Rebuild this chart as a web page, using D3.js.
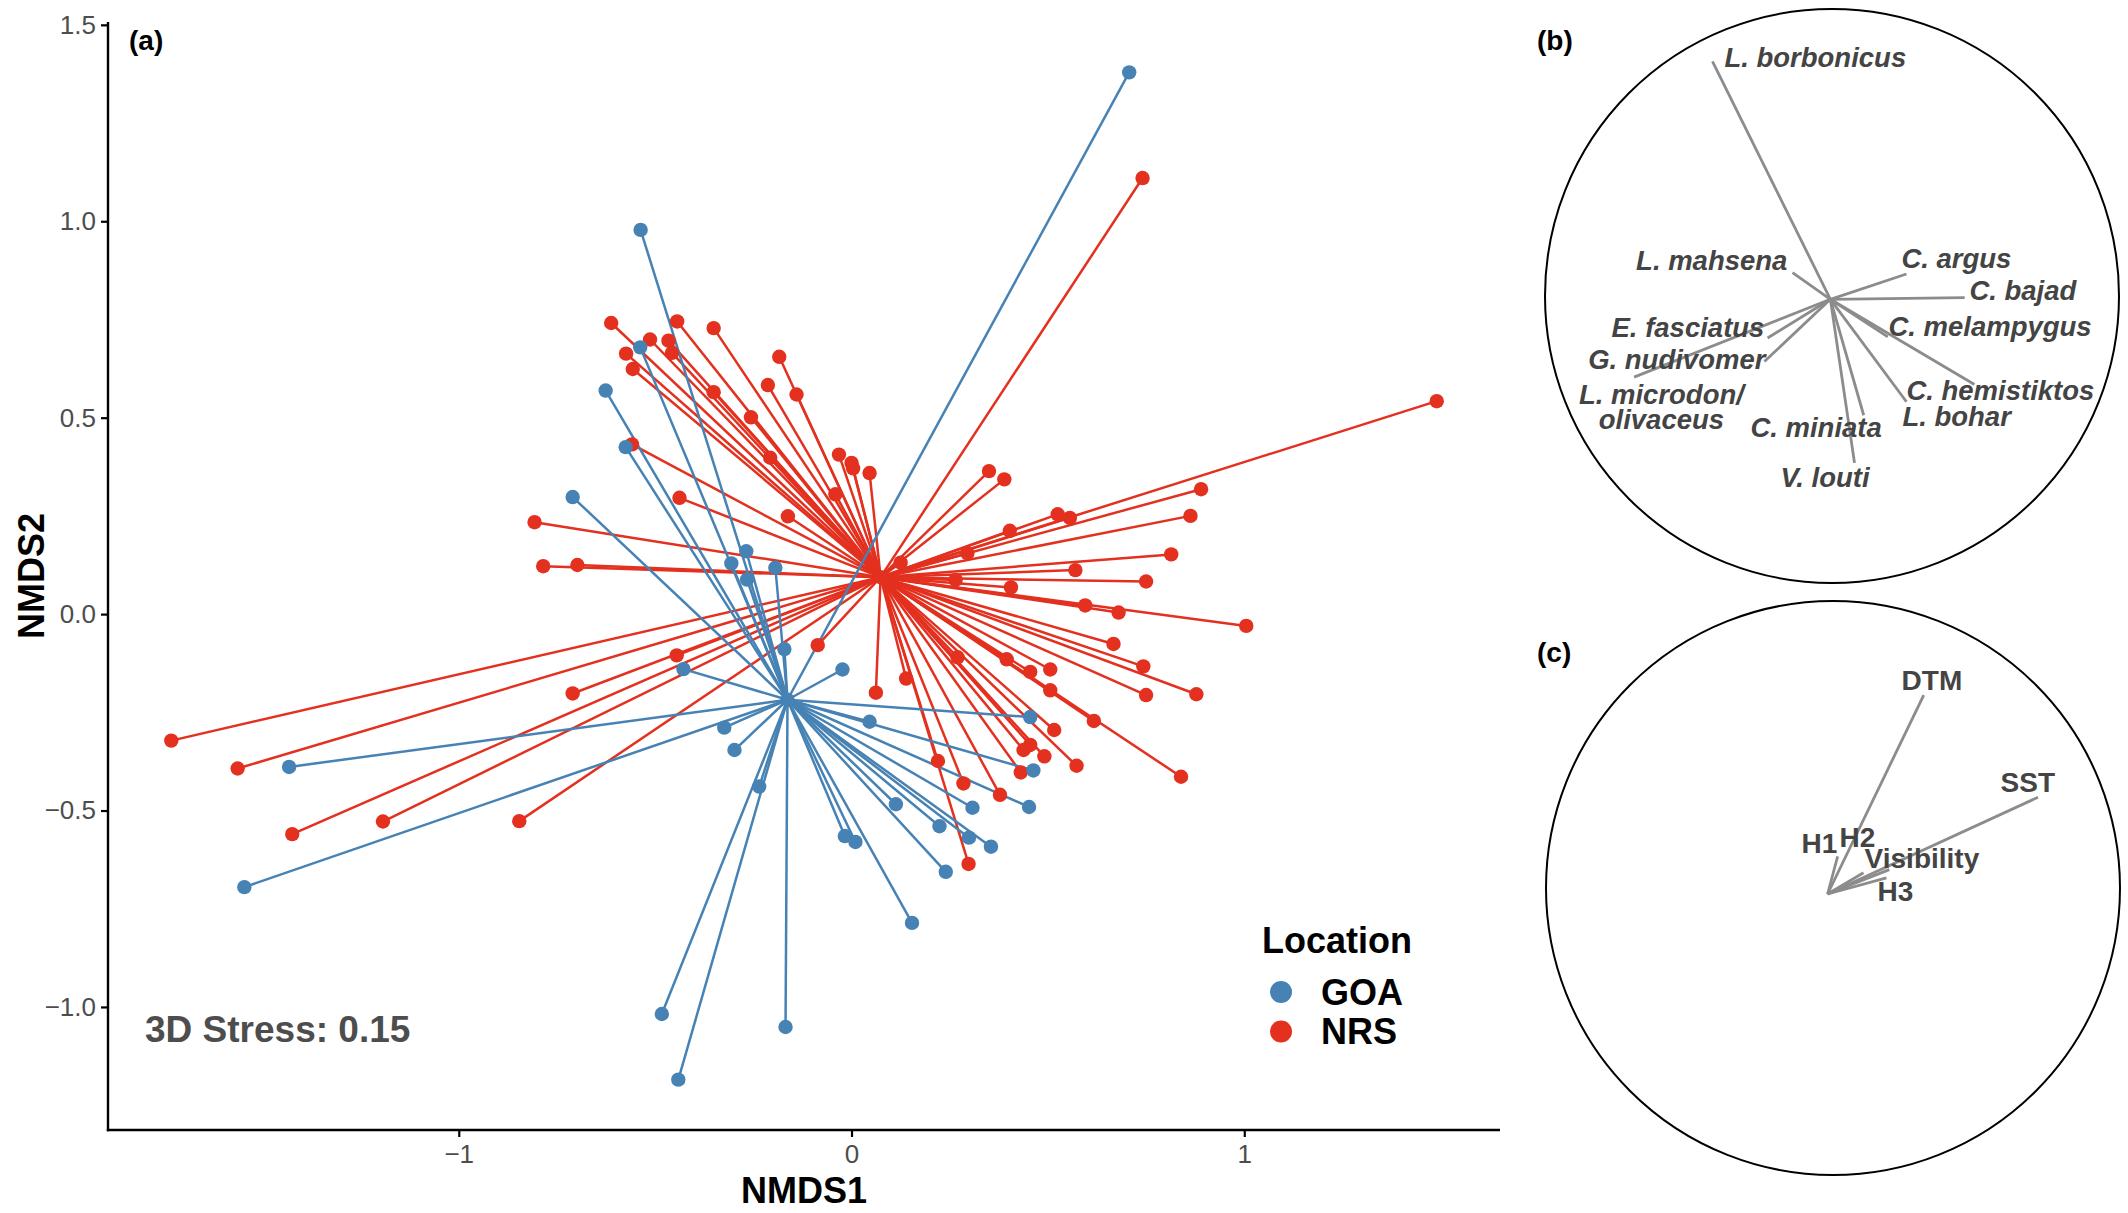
<!DOCTYPE html>
<html><head><meta charset="utf-8">
<script src="https://cdn.jsdelivr.net/npm/d3@7"></script>
<style>
html,body{margin:0;padding:0;background:#fff;}
svg{display:block;font-family:"Liberation Sans",Arial,Helvetica,sans-serif;}
</style></head>
<body><svg id="chart" width="2128" height="1213"></svg>
<script>
// ---------------- DATA ----------------
const locations = ["GOA", "NRS"];
const goaX = [0.707,-0.537,-0.538,-0.626,-0.575,-0.710,-0.268,-0.306,-0.194,-0.266,-0.171,-0.023,-0.428,0.046,-0.324,-0.298,-0.235,0.113,0.308,0.224,0.299,0.355,-0.017,0.010,0.240,0.154,0.455,0.463,0.452,-1.432,-1.546,-0.483,-0.168,-0.441];
const goaY = [1.379,0.978,0.679,0.569,0.425,0.298,0.160,0.129,0.118,0.088,-0.089,-0.141,-0.140,-0.274,-0.289,-0.346,-0.439,-0.484,-0.493,-0.540,-0.569,-0.592,-0.565,-0.580,-0.656,-0.786,-0.262,-0.398,-0.491,-0.389,-0.695,-1.018,-1.051,-1.185];
const nrsX = [0.741,1.490,-0.612,-0.444,-0.351,-0.513,-0.466,-0.574,-0.457,-0.557,-0.184,-0.213,-0.351,-0.140,-0.256,-0.559,-0.207,-0.032,0.000,0.004,0.046,0.350,0.389,-0.041,-0.438,-0.162,-0.807,-0.785,-0.698,0.890,0.863,0.525,0.556,0.403,0.295,0.125,0.814,0.570,0.750,0.265,0.406,0.595,0.680,1.005,0.667,0.270,0.395,0.455,0.506,0.743,0.139,0.062,-0.086,-0.445,-0.710,0.506,0.750,0.878,0.617,0.516,0.455,0.438,0.491,0.573,0.431,0.220,0.285,0.378,0.839,0.298,-1.732,-1.563,-1.424,-1.193,-0.846];
const nrsY = [1.110,0.542,0.741,0.745,0.728,0.699,0.696,0.663,0.665,0.624,0.655,0.583,0.565,0.559,0.501,0.432,0.398,0.406,0.385,0.371,0.359,0.364,0.343,0.305,0.296,0.249,0.234,0.122,0.125,0.318,0.250,0.254,0.245,0.212,0.155,0.131,0.152,0.112,0.083,0.087,0.068,0.022,0.004,-0.030,-0.076,-0.110,-0.115,-0.147,-0.141,-0.133,-0.164,-0.200,-0.079,-0.105,-0.202,-0.194,-0.206,-0.204,-0.272,-0.295,-0.333,-0.346,-0.362,-0.386,-0.403,-0.374,-0.431,-0.460,-0.414,-0.636,-0.322,-0.393,-0.560,-0.528,-0.527];
const goaCentroid = [-0.163, -0.218];
const nrsCentroid = [0.074, 0.094];
const xTicks = [-1, 0, 1];
const yTicks = [-1, -0.5, 0, 0.5, 1, 1.5];
const stressText = "3D Stress: 0.15";

const speciesNames = ["L. borbonicus","L. mahsena","C. argus","C. bajad","C. melampygus","C. hemistiktos","L. bohar","C. miniata","V. louti","E. fasciatus","G. nudivomer","L. microdon/|olivaceus"];
const speciesX = [-0.411,-0.132,0.265,0.468,0.200,0.502,0.265,0.116,0.084,-0.219,-0.230,-0.684];
const speciesY = [0.829,0.093,0.088,0.006,-0.131,-0.297,-0.357,-0.404,-0.570,-0.135,-0.217,-0.271];

const envNames = ["DTM","SST","H1","H2","Visibility","H3"];
const envX = [0.335,0.733,0.035,0.125,0.215,0.205];
const envY = [0.693,0.337,0.131,0.074,0.085,0.056];

// ---------------- LAYOUT ----------------
const colors = {GOA: "#4682B4", NRS: "#E3301F"};
const panelA = {left: 108, right: 1500, top: 22, bottom: 1130};
const circB = {cx: 1832, cy: 296, r: 287, ox: 1830.4, oy: 299.3};
const circC = {cx: 1833, cy: 888, r: 287, ox: 1827.6, oy: 894};
// label placement: [dx, dy (baseline), anchor] relative to vector origin, in px
const speciesLabelPos = [[-106,-232,"start"],[-43,-29,"end"],[71,-31,"start"],[139,1,"start"],[58,37,"start"],[76,101,"start"],[72,127,"start"],[-80,138,"start"],[-50,188,"start"],[-66,38,"end"],[-65,70,"end"],[-169,105,"middle"]];
const envLabelPos = [[74,-204,"start"],[173,-102,"start"],[-26,-41,"start"],[12,-47,"start"],[37,-26,"start"],[50,7,"start"]];

const svg = d3.select("#chart");
svg.append("rect").attr("width",2128).attr("height",1213).attr("fill","#fff");

// ---------------- PANEL A ----------------
function expand(ext, f) { const d = ext[1]-ext[0]; return [ext[0]-d*f, ext[1]+d*f]; }
const allX = goaX.concat(nrsX), allY = goaY.concat(nrsY);
const x = d3.scaleLinear().domain(expand(d3.extent(allX), 0.05)).range([panelA.left, panelA.right]);
const y = d3.scaleLinear().domain(expand(d3.extent(allY), 0.05)).range([panelA.bottom, panelA.top]);

const groups = [
  {name: "NRS", xs: nrsX, ys: nrsY, c: nrsCentroid},
  {name: "GOA", xs: goaX, ys: goaY, c: goaCentroid}
];
const gA = svg.append("g");
groups.forEach(g => {
  const pts = g.xs.map((v,i) => ({x: v, y: g.ys[i]}));
  gA.append("g").selectAll("line").data(pts).join("line")
    .attr("x1", x(g.c[0])).attr("y1", y(g.c[1]))
    .attr("x2", d => x(d.x)).attr("y2", d => y(d.y))
    .attr("stroke", colors[g.name]).attr("stroke-width", 2.5);
});
groups.forEach(g => {
  const pts = g.xs.map((v,i) => ({x: v, y: g.ys[i]}));
  gA.append("g").selectAll("circle").data(pts).join("circle")
    .attr("cx", d => x(d.x)).attr("cy", d => y(d.y)).attr("r", 7.2)
    .attr("fill", colors[g.name]);
  gA.append("circle").attr("cx", x(g.c[0])).attr("cy", y(g.c[1])).attr("r", 7.2).attr("fill", colors[g.name]);
});

// axes
const xAxis = d3.axisBottom(x).tickValues(xTicks).tickFormat(d3.format("d")).tickSizeOuter(0).tickSize(7).tickPadding(8);
const yAxis = d3.axisLeft(y).tickValues(yTicks).tickFormat(d3.format(".1f")).tickSizeOuter(0).tickSize(7).tickPadding(5);
const gx = svg.append("g").attr("transform", `translate(0,${panelA.bottom})`).call(xAxis);
const gy = svg.append("g").attr("transform", `translate(${panelA.left},0)`).call(yAxis);
[gx, gy].forEach(g => {
  g.select(".domain").remove();
  g.selectAll(".tick line").attr("stroke", "#000").attr("stroke-width", 2.2);
  g.selectAll(".tick text").attr("fill", "#4d4d4d").attr("font-size", 26).attr("font-family", "Liberation Sans, Arial, sans-serif");
});
svg.append("line").attr("x1", panelA.left - 1.2).attr("x2", panelA.right).attr("y1", panelA.bottom).attr("y2", panelA.bottom)
  .attr("stroke", "#000").attr("stroke-width", 2.4);
svg.append("line").attr("x1", panelA.left).attr("x2", panelA.left).attr("y1", panelA.top).attr("y2", panelA.bottom + 1.2)
  .attr("stroke", "#000").attr("stroke-width", 2.4);

svg.append("text").attr("x", (panelA.left+panelA.right)/2).attr("y", 1203)
  .attr("text-anchor","middle").attr("font-size",36).attr("font-weight","bold").text("NMDS1");
svg.append("text").attr("transform", `translate(44,${(panelA.top+panelA.bottom)/2}) rotate(-90)`)
  .attr("text-anchor","middle").attr("font-size",36).attr("font-weight","bold").text("NMDS2");
svg.append("text").attr("x",129).attr("y",50).attr("font-size",28).attr("font-weight","bold").text("(a)");
svg.append("text").attr("x",145).attr("y",1042).attr("font-size",37).attr("font-weight","bold").attr("fill","#4d4d4d").text(stressText);

// legend
const leg = svg.append("g");
leg.append("text").attr("x",1262).attr("y",953).attr("font-size",36).attr("font-weight","bold").text("Location");
locations.forEach((loc,i) => {
  const cy = 992 + i*39.5;
  leg.append("circle").attr("cx",1281).attr("cy",cy).attr("r",11).attr("fill",colors[loc]);
  leg.append("text").attr("x",1321).attr("y",cy).attr("dy","0.36em").attr("font-size",36).attr("font-weight","bold").text(loc);
});

// ---------------- PANELS B, C ----------------
function vectorPanel(circ, names, vx, vy, labelPos, italic, fontSize, tag, tagY) {
  const sx = d3.scaleLinear().domain([-1,1]).range([circ.ox - circ.r, circ.ox + circ.r]);
  const sy = d3.scaleLinear().domain([-1,1]).range([circ.oy + circ.r, circ.oy - circ.r]);
  const g = svg.append("g");
  g.append("circle").attr("cx",circ.cx).attr("cy",circ.cy).attr("r",circ.r)
    .attr("fill","none").attr("stroke","#000").attr("stroke-width",2);
  g.selectAll("line.v").data(names).join("line").attr("class","v")
    .attr("x1", sx(0)).attr("y1", sy(0))
    .attr("x2", (d,i) => sx(vx[i])).attr("y2", (d,i) => sy(vy[i]))
    .attr("stroke","#8c8c8c").attr("stroke-width",2.8);
  names.forEach((n,i) => {
    const p = labelPos[i];
    const t = g.append("text").attr("x", sx(0)+p[0]).attr("y", sy(0)+p[1])
      .attr("text-anchor", p[2]).attr("font-size",fontSize).attr("font-weight","bold")
      .attr("font-style", italic ? "italic" : "normal").attr("fill","#444");
    n.split("|").forEach((s,k) => {
      t.append("tspan").attr("x", sx(0)+p[0]).attr("dy", k===0 ? 0 : 25).text(s);
    });
  });
  svg.append("text").attr("x",1537).attr("y",tagY).attr("font-size",28).attr("font-weight","bold").text(tag);
}
vectorPanel(circB, speciesNames, speciesX, speciesY, speciesLabelPos, true, 27.5, "(b)", 50);
vectorPanel(circC, envNames, envX, envY, envLabelPos, false, 28, "(c)", 662);
</script>
</body></html>
